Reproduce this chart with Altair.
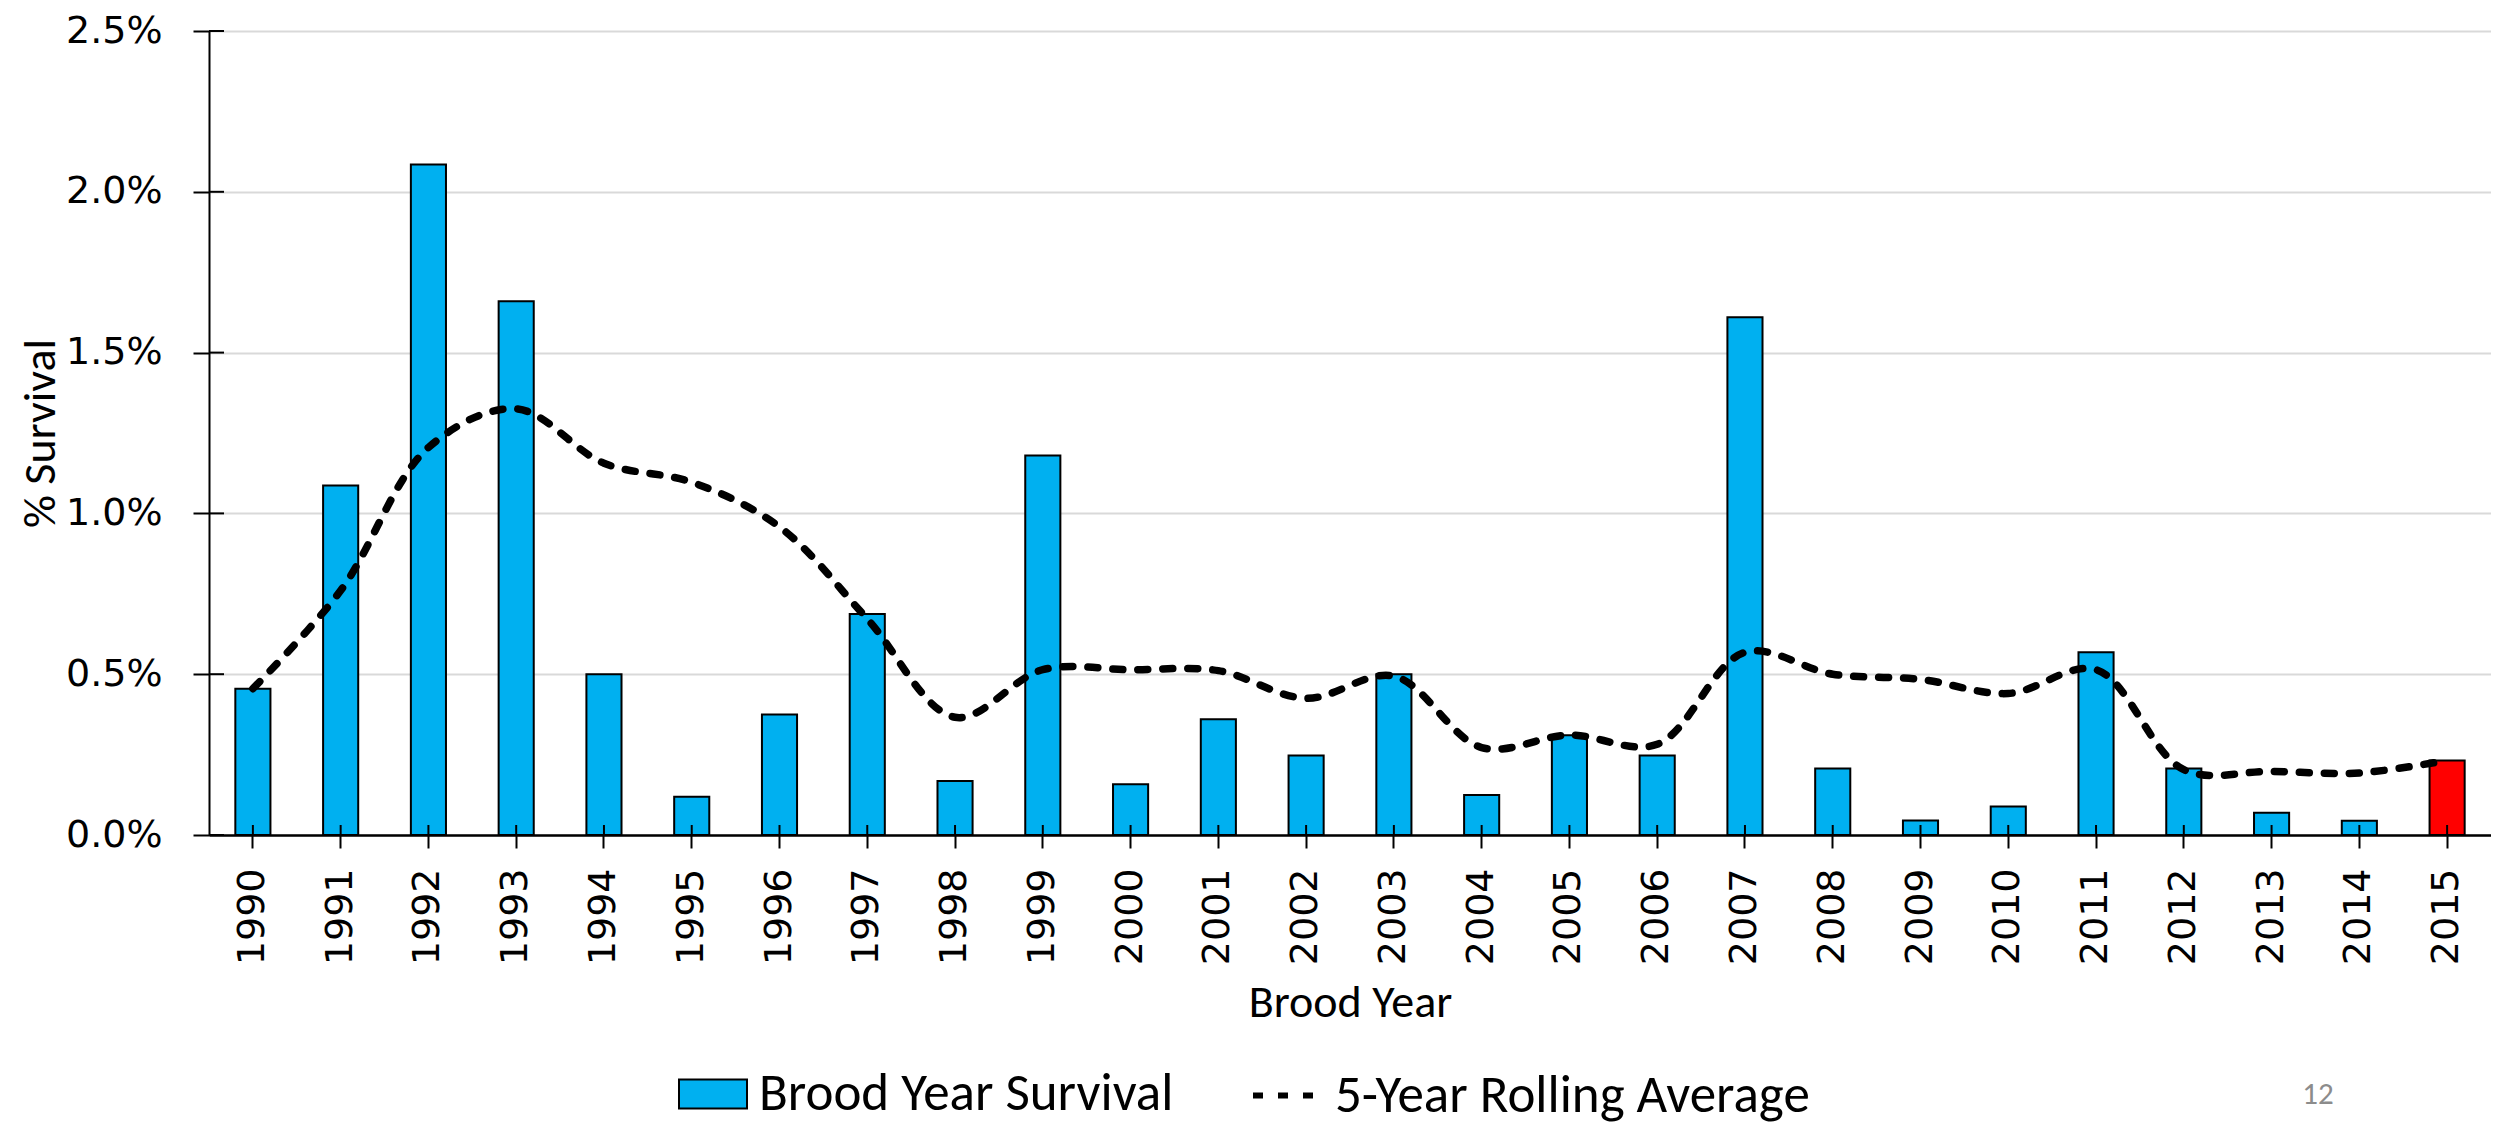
import altair as alt
import pandas as pd

years = [str(y) for y in range(1990, 2016)]
survival_pct = [0.455, 1.087, 2.085, 1.66, 0.50, 0.119, 0.375, 0.687, 0.168, 1.18,
                0.158, 0.36, 0.247, 0.50, 0.124, 0.31, 0.247, 1.61, 0.207, 0.045,
                0.089, 0.568, 0.207, 0.069, 0.044, 0.232]
rolling_pct = [0.455, 0.76, 1.205, 1.325, 1.156, 1.097, 0.958, 0.672, 0.366, 0.514,
               0.514, 0.511, 0.425, 0.494, 0.272, 0.311, 0.282, 0.568, 0.50, 0.484,
               0.44, 0.514, 0.203, 0.198, 0.193, 0.232]
kinds = ["Brood Year Survival"] * 25 + ["Current"]
y_ticks = [0.0, 0.005, 0.01, 0.015, 0.02, 0.025]

BAR_LABEL = "Brood Year Survival"
LINE_LABEL = "5-Year Rolling Average"
NARROW = "Carlito, Liberation Sans Narrow, Open Sans, sans-serif"

df = pd.DataFrame({
    "Year": years,
    "Survival": [v / 100 for v in survival_pct],
    "Rolling": [v / 100 for v in rolling_pct],
    "Kind": kinds,
    "Avg": [LINE_LABEL] * len(years),
})
ticks_df = pd.DataFrame({"v": y_ticks})

W, H = 2282, 804
TOP, LEFT = 23, 201

x_enc = alt.X("Year:O", sort=years,
              scale=alt.Scale(paddingInner=0.6, paddingOuter=0.3),
              axis=alt.Axis(title="Brood Year", labelAngle=270, labelPadding=20,
                            tickSize=13, tickWidth=2, tickColor="black",
                            domainColor="black", domainWidth=2.5,
                            labelFont="DejaVu Sans", labelFontSize=38, labelColor="black",
                            titleFont=NARROW, titleFontSize=46, titleFontWeight="normal",
                            titleColor="black", titlePadding=16))

y_scale = alt.Scale(domain=[0, 0.025], nice=False)

bars = alt.Chart(df).mark_bar(stroke="black", strokeWidth=2).encode(
    x=x_enc,
    y=alt.Y("Survival:Q", scale=y_scale,
            axis=alt.Axis(title="% Survival", format=".1%", values=y_ticks,
                          tickSize=16, tickWidth=2, tickColor="black",
                          domainColor="black", domainWidth=2,
                          grid=True, gridColor="#d9d9d9", gridWidth=2,
                          labelFont="DejaVu Sans", labelFontSize=38, labelColor="black",
                          labelPadding=31,
                          titleFont=NARROW, titleFontSize=46, titleFontWeight="normal",
                          titleColor="black", titleAngle=270, titleX=-169, titleY=H / 2,
                          titleAlign="center", titleBaseline="middle")),
    color=alt.Color("Kind:N",
                    scale=alt.Scale(domain=[BAR_LABEL, "Current"], range=["#00B0F0", "#FF0000"]),
                    legend=alt.Legend(title=None, orient="none", legendX=469, legendY=1028,
                                      values=[BAR_LABEL], padding=0,
                                      symbolType="M-1,-0.426 L1,-0.426 L1,0.426 L-1,0.426 Z",
                                      symbolSize=4624, symbolStrokeColor="black",
                                      symbolStrokeWidth=2, symbolOpacity=1, labelOffset=11,
                                      labelFont=NARROW, labelFontSize=53, labelColor="black",
                                      labelLimit=800)),
)

x_inner = alt.Chart(df).mark_rule(color="black", strokeWidth=2).encode(
    x=alt.X("Year:O", sort=years), y=alt.value(H - 10), y2=alt.value(H))

y_inner = alt.Chart(ticks_df).mark_rule(color="black", strokeWidth=2).encode(
    y=alt.Y("v:Q", scale=y_scale), x=alt.value(0), x2=alt.value(15))

line = alt.Chart(df).mark_line(color="black", strokeWidth=7.5, strokeCap="round",
                               interpolate="catmull-rom").encode(
    x=alt.X("Year:O", sort=years),
    y=alt.Y("Rolling:Q", scale=y_scale),
    strokeDash=alt.StrokeDash("Avg:N",
                              scale=alt.Scale(domain=[LINE_LABEL], range=[[10, 15]]),
                              legend=alt.Legend(title=None, orient="none", legendX=1041,
                                                legendY=1028, padding=0,
                                                symbolType="stroke", symbolSize=4489,
                                                symbolStrokeWidth=6, symbolStrokeColor="black",
                                                labelOffset=12, labelFont=NARROW,
                                                labelFontSize=53, labelColor="black",
                                                labelLimit=900)),
)

page = alt.Chart(pd.DataFrame({"t": ["12"]})).mark_text(
    font=NARROW, fontSize=31, color="#8c8c8c", align="center", baseline="middle"
).encode(text="t:N", x=alt.value(2318 - 209), y=alt.value(1095 - 31))

chart = alt.layer(bars, x_inner, y_inner, line, page).resolve_scale(
    color="independent", strokeDash="independent"
).properties(
    width=W, height=H,
    autosize=alt.AutoSizeParams(type="none"),
    padding={"left": LEFT, "top": TOP, "right": 0, "bottom": 292},
).configure_view(stroke=None).configure(background="white")

chart.save("out.html", embed_options={"renderer": "svg", "actions": False})
